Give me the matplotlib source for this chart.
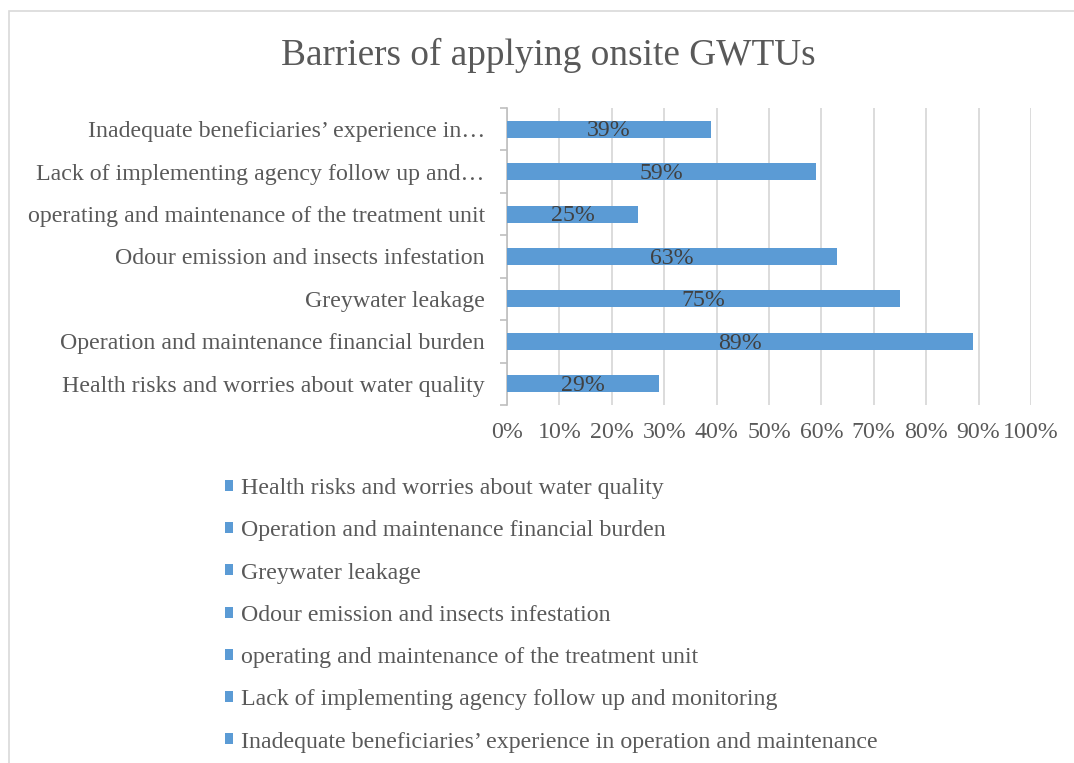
import matplotlib
matplotlib.use("Agg")
import matplotlib.pyplot as plt
from matplotlib.ticker import FuncFormatter, MultipleLocator
import numpy as np

# data, bottom to top as in the chart
barriers = [
    "Health risks and worries about water quality",
    "Operation and maintenance financial burden",
    "Greywater leakage",
    "Odour emission and insects infestation",
    "operating and maintenance of the treatment unit",
    "Lack of implementing agency follow up and monitoring",
    "Inadequate beneficiaries\u2019 experience in operation and maintenance",
]
tick_labels = [
    "Health risks and worries about water quality",
    "Operation and maintenance financial burden",
    "Greywater leakage",
    "Odour emission and insects infestation",
    "operating and maintenance of the treatment unit",
    "Lack of implementing agency follow up and\u2026",
    "Inadequate beneficiaries\u2019 experience in\u2026",
]
percent = [29, 89, 75, 63, 25, 59, 39]

bar_color = "#5B9BD5"
text_grey = "#595959"
grid_grey = "#D9D9D9"
fs = 17.2

plt.rcParams["font.family"] = ["Liberation Serif", "DejaVu Serif"]

W, H = 1074, 763
fig = plt.figure(figsize=(W / 100, H / 100), dpi=100)

# chart border (Excel chart area)
fig.patches.append(plt.Rectangle((9 / W, -0.01), 1.02, 1 - 11 / H + 0.01,
                                 transform=fig.transFigure, fill=False,
                                 edgecolor="#D9D9D9", linewidth=1.2))

left, right, top, bottom = 507, 1031, 108, 405
ax = fig.add_axes([left / W, 1 - bottom / H, (right - left) / W, (bottom - top) / H])

y = np.arange(len(percent))
bars = ax.barh(y, percent, height=0.4, color=bar_color, zorder=3)

for yi, v in zip(y, percent):
    ax.text(v / 2, yi - 0.04, f"{v}%", ha="center", va="center",
            fontsize=fs, color="#404040", zorder=4)

ax.set_xlim(0, 100)
ax.set_ylim(-0.5, len(percent) - 0.5)
ax.xaxis.set_major_locator(MultipleLocator(10))
ax.xaxis.set_major_formatter(FuncFormatter(lambda v, p: f"{v:.0f}%"))
ax.grid(axis="x", color=grid_grey, linewidth=1.3, zorder=0)

ax.set_yticks(y)
ax.set_yticklabels(tick_labels)
ax.set_yticks(np.arange(-0.5, len(percent)), minor=True)
ax.tick_params(axis="y", which="major", length=0, pad=16, labelsize=fs, labelcolor=text_grey)
ax.tick_params(axis="y", which="minor", length=5, color="#BFBFBF", width=1.2)
ax.tick_params(axis="x", length=0, pad=12, labelsize=fs, labelcolor=text_grey)

for s in ["top", "right", "bottom"]:
    ax.spines[s].set_visible(False)
ax.spines["left"].set_color("#BFBFBF")
ax.spines["left"].set_linewidth(1.2)

fig.text(548 / W, 1 - 55 / H, "Barriers of applying onsite GWTUs", ha="center", va="center",
         fontsize=26.8, color=text_grey)

fig.legend(handles=list(bars), labels=barriers, loc="upper left",
           bbox_to_anchor=(225 / W, 1 - 478 / H), frameon=False, fontsize=fs,
           labelcolor=text_grey, handlelength=0.33, handleheight=0.33,
           handletextpad=0.35, labelspacing=0.89, borderpad=0, borderaxespad=0)

fig.savefig("out.png", dpi=100)
